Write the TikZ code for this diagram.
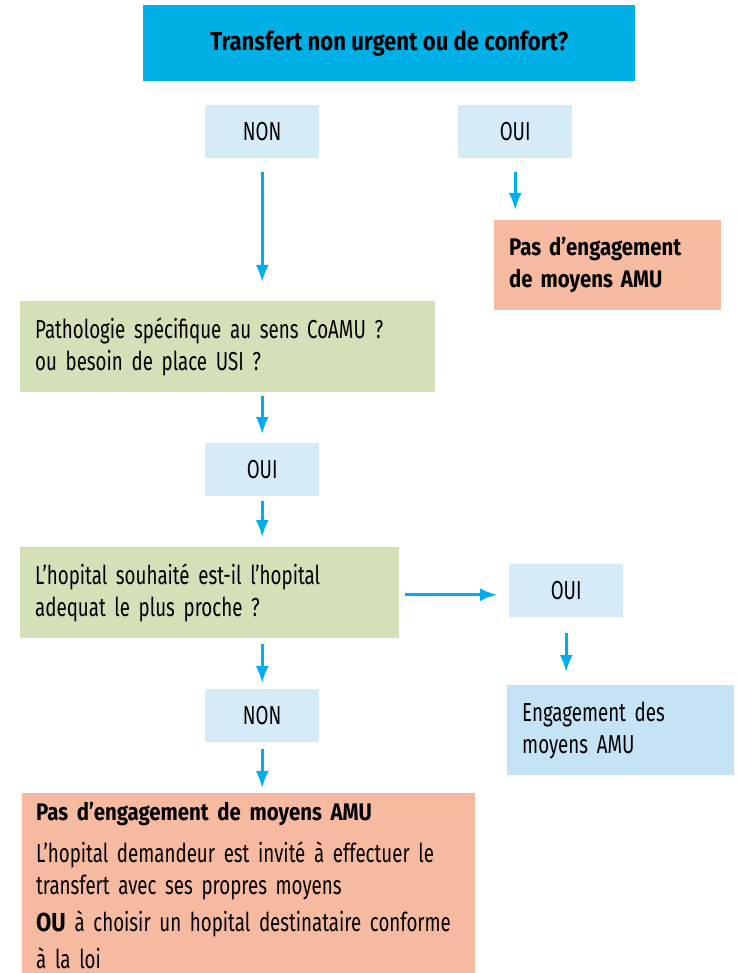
\documentclass[tikz,border=0pt]{standalone}
\usepackage{fontspec}
\setmainfont{Fira Sans}[FakeStretch=0.72]
\newfontfamily\heavyfont{Fira Sans}[FakeStretch=0.85]
\hyphenpenalty=10000
\usepackage{tikz}
\usetikzlibrary{
  arrows.meta,
  positioning
}
\definecolor{amublue}{RGB}{0,176,230}
\definecolor{answerblue}{RGB}{214,235,248}
\definecolor{engageblue}{RGB}{196,227,245}
\definecolor{nogoorange}{RGB}{246,186,160}
\definecolor{questiongreen}{RGB}{211,224,184}
\definecolor{arrowblue}{RGB}{0,174,239}
\tikzset{>={Latex[length=17pt,width=13pt]}}
\tikzset{
  box/.style={anchor=north west, inner xsep=15pt, inner ysep=0pt,
    font=\fontsize{26}{32}\selectfont},
  titlebox/.style={box, fill=amublue, minimum width=492pt, minimum height=76pt,
    font=\heavyfont\bfseries\fontsize{26}{32}\selectfont},
  answer/.style={box, fill=answerblue, minimum width=114pt, minimum height=53pt,
    inner xsep=0pt},
  question/.style={box, fill=questiongreen, align=left, minimum height=91pt},
  nogo/.style={box, fill=nogoorange, align=left},
  engage/.style={box, fill=engageblue, align=left, minimum height=90pt,
    text width=197pt},
  flow/.style={->, draw=arrowblue, fill=arrowblue, line width=2.6pt},
}

\begin{document}
\begin{tikzpicture}[x=1pt, y=-1pt]
  \useasboundingbox (0,0) rectangle (736,973);
  \node[titlebox] (start) at (143,5) {Transfert non urgent ou de confort?};
  \node[answer] (non1) at (205,105) {NON};
  \node[answer] (oui1) at (458,105) {OUI};
  \node[nogo, text width=197pt, minimum height=90pt,
    font=\heavyfont\bfseries\fontsize{24}{32}\selectfont] (pas1) at (494,220)
    {Pas d’engagement\\de moyens AMU};
  \node[question, text width=385pt] (patho) at (20,301)
    {Pathologie spécifique au sens CoAMU ?\\ou besoin de place USI ?};
  \node[answer] (oui2) at (205,443) {OUI};
  \node[question, text width=349pt] (hop) at (20,547)
    {L’hopital souhaité est-il l’hopital\\adequat le plus proche ?};
  \node[answer] (oui3) at (509,564) {OUI};
  \node[engage] (engage) at (507,685) {Engagement des\\moyens AMU};
  \node[answer] (non2) at (205,689) {NON};
  \node[nogo, text width=425pt, inner xsep=14pt, inner ysep=9pt] (pas2) at (22,793)
    {{\heavyfont\bfseries\fontsize{24}{32}\selectfont Pas d’engagement de moyens AMU}\\[10pt]
     L’hopital demandeur est invité à effectuer le\\
     transfert avec ses propres moyens\\[5pt]
     {\heavyfont\bfseries OU} à choisir un hopital destinataire conforme\\[5pt]
     à la loi};

  \draw[flow, shorten <=14pt, shorten >=19pt] (non1.south) -- (non1.south |- patho.north);
  \draw[flow, shorten <=14pt, shorten >=10pt] (oui1.south) -- (oui1.south |- pas1.north);
  \draw[flow, shorten <=4pt, shorten >=9pt] (oui2.north |- patho.south) -- (oui2.north);
  \draw[flow, shorten <=5pt, shorten >=10pt] (oui2.south) -- (oui2.south |- hop.north);
  \draw[flow, shorten <=6pt, shorten >=12pt] ([yshift=-2pt]hop.east) -- ([yshift=-2pt]hop.east -| oui3.west);
  \draw[flow, shorten <=16pt, shorten >=13pt] (oui3.south) -- (oui3.south |- engage.north);
  \draw[flow, shorten <=6pt, shorten >=6pt] (non2.north |- hop.south) -- (non2.north);
  \draw[flow, shorten <=7pt, shorten >=5pt] (non2.south) -- (non2.south |- pas2.north);
\end{tikzpicture}
\end{document}
